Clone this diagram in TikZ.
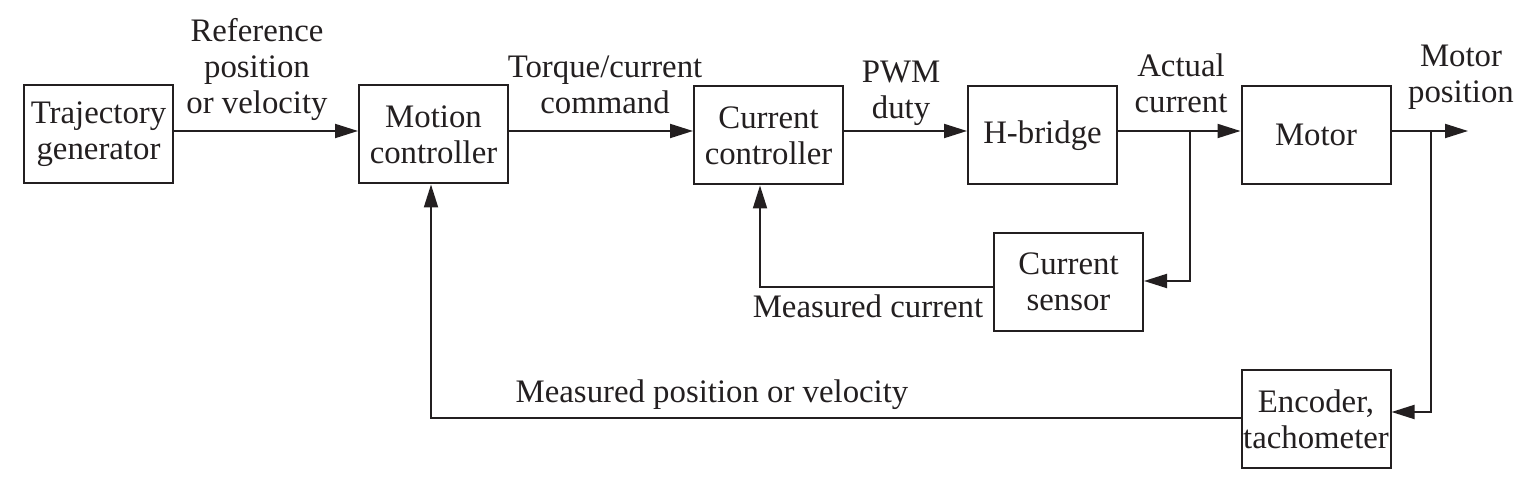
\documentclass[tikz,border=0pt]{standalone}
\usepackage{fontspec}
\setmainfont{Liberation Serif}
\usetikzlibrary{arrows.meta}
\definecolor{ink}{HTML}{231F20}
\begin{document}
\begin{tikzpicture}[x=0.5pt,y=-0.5pt,
  every node/.style={text=ink,font=\fontsize{16.4pt}{18pt}\selectfont},
  blk/.style={draw=ink,line width=1pt,minimum width=74.5pt,minimum height=49pt,inner sep=0pt,align=center},
  lbl/.style={inner sep=0pt,align=center},
  arr/.style={draw=ink,line width=1pt,-{Triangle[length=11.5pt,width=7pt]}},
  ln/.style={draw=ink,line width=1pt}]
\useasboundingbox (0,0) rectangle (1534,490);
% blocks
\node[blk] (traj)   at (98.5,134.5) {Trajectory\\generator};
\node[blk] (motion) at (433.5,134.5) {Motion\\controller};
\node[blk] (cc)     at (768.5,135.5) {Current\\controller};
\node[blk] (hb)     at (1042.5,135.5) {H-bridge};
\node[blk] (motor)  at (1316,135) {Motor};
\node[blk] (cs)     at (1068.5,282) {Current\\sensor};
\node[blk] (enc)    at (1316,419) {Encoder,\\tachometer};
% labels
\node[lbl] (l1) at (257,69.5) {Reference\\position\\or velocity};
\node[lbl] (l2) at (605,84.5) {Torque/current\\command};
\node[lbl] (l3) at (901,93) {PWM\\duty};
\node[lbl] (l4) at (1181,83.5) {Actual\\current};
\node[lbl] (l5) at (1461,77.5) {Motor\\position};
\node[lbl,anchor=base] (l6) at (868,318) {Measured current};
\node[lbl,anchor=base] (l7) at (712,403) {Measured position or velocity};
% coordinates
\coordinate (b1) at (1190,131);
\coordinate (b2) at (1431,131);
\coordinate (out) at (1468,131);
% connectors
\draw[arr] (traj.east |- 0,131) -- (motion.west |- 0,131);
\draw[arr] (motion.east |- 0,131) -- (cc.west |- 0,131);
\draw[arr] (cc.east |- 0,131) -- (hb.west |- 0,131);
\draw[arr] (hb.east |- 0,131) -- (motor.west |- 0,131);
\draw[arr] (motor.east |- 0,131) -- (out);
\draw[arr] (b1) |- (cs.east |- 0,281);
\draw[arr] (b2) |- (enc.east |- 0,412);
\draw[arr] (cs.west |- 0,287) -| (cc.south -| 760,0);
\draw[arr] (enc.west |- 0,418) -| (motion.south -| 431,0);
\end{tikzpicture}
\end{document}
